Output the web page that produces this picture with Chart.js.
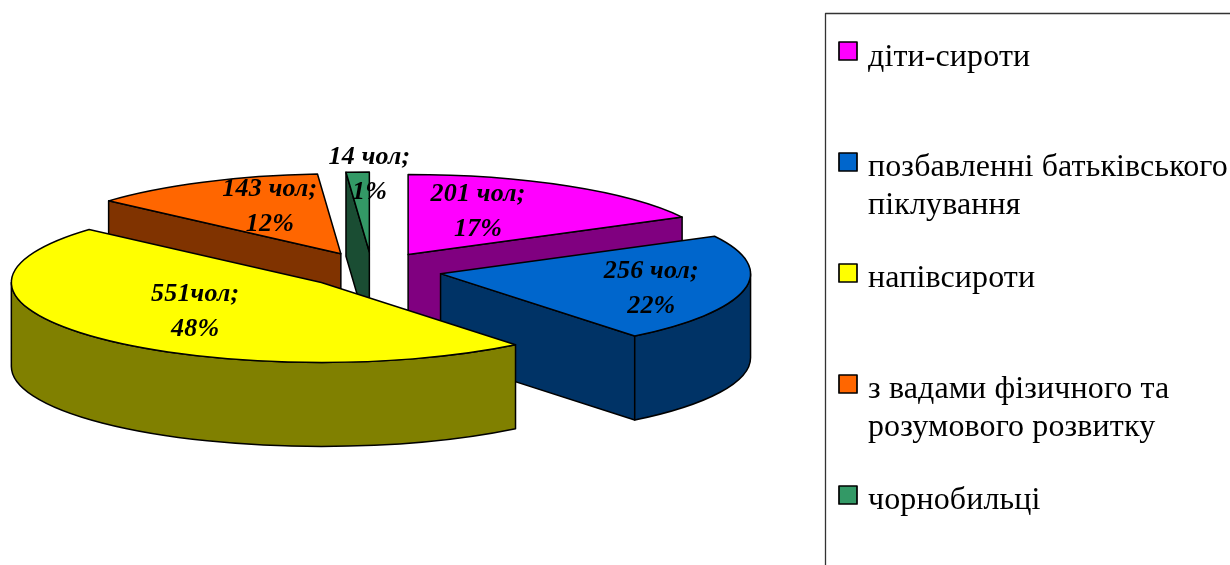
<!DOCTYPE html>
<html lang="uk">
<head>
<meta charset="utf-8">
<title>Pie</title>
<style>html,body{margin:0;padding:0;background:#fff;overflow:hidden}canvas{display:block}</style>
<script src="https://cdn.jsdelivr.net/npm/chart.js@4/dist/chart.umd.js"></script>
</head>
<body>
<canvas id="c" width="1230" height="565"></canvas>
<script>
const categories = ['діти-сироти', 'позбавленні батьківського піклування', 'напівсироти', 'з вадами фізичного та розумового розвитку', 'чорнобильці'];
const legendLines = [['діти-сироти'], ['позбавленні батьківського', 'піклування'], ['напівсироти'], ['з вадами фізичного та', 'розумового розвитку'], ['чорнобильці']];
const people = [201, 256, 551, 143, 14];
const valueLabels = ['201 чол;', '256 чол;', '551чол;', '143 чол;', '14 чол;'];
const percentLabels = ['17%', '22%', '48%', '12%', '1%'];
const topColors = ['#FF00FF', '#0066CC', '#FFFF00', '#FF6600', '#339966'];
const sideColors = ['#800080', '#003366', '#808000', '#803300', '#1A4D33'];

// view settings for the tilted, exploded pie
const TILT = 0.258, DEPTH = 84, EXPLODE = 70, RADIUS = 310;
const paintOrder = [0, 3, 4, 1, 2];
const labelNudge = [[-10, -19], [59, -4], [-14, -9], [-2, -22], [6, -48]];
const legendBox = {left: 825.5, top: 13.5};
const legendRows = [{box: 42, base: 66}, {box: 153, base: 176}, {box: 264, base: 287}, {box: 375, base: 398}, {box: 486, base: 509}];

function geom(chart, i) {
  const el = chart.getDatasetMeta(0).data[i];
  const mid = (el.startAngle + el.endAngle) / 2;
  const R = el.outerRadius;
  return {
    el, s: el.startAngle, e: el.endAngle, mid, R, b: R * TILT,
    x: el.x + Math.cos(mid) * EXPLODE,
    y: el.y + Math.sin(mid) * EXPLODE * TILT
  };
}
function quad(ctx, g, a, fill) {
  const px = g.x + g.R * Math.cos(a), py = g.y + g.b * Math.sin(a);
  ctx.beginPath();
  ctx.moveTo(g.x, g.y); ctx.lineTo(px, py); ctx.lineTo(px, py + DEPTH); ctx.lineTo(g.x, g.y + DEPTH);
  ctx.closePath(); ctx.fillStyle = fill; ctx.fill(); ctx.stroke();
}
const pie3d = {
  id: 'pie3d',
  beforeDatasetsDraw(chart) {
    const ctx = chart.ctx;
    ctx.save();
    ctx.strokeStyle = '#000'; ctx.lineWidth = 1.5; ctx.lineJoin = 'round';
    for (const i of paintOrder) {
      const g = geom(chart, i);
      if (Math.cos(g.s) < -1e-6) quad(ctx, g, g.s, sideColors[i]);
      if (Math.cos(g.e) > 1e-6) quad(ctx, g, g.e, sideColors[i]);
      const a1 = Math.max(g.s, 0), a2 = Math.min(g.e, Math.PI);
      if (a2 > a1) {
        ctx.beginPath();
        ctx.ellipse(g.x, g.y, g.R, g.b, 0, a1, a2);
        ctx.ellipse(g.x, g.y + DEPTH, g.R, g.b, 0, a2, a1, true);
        ctx.closePath(); ctx.fillStyle = sideColors[i]; ctx.fill(); ctx.stroke();
      }
    }
    ctx.restore();
  },
  beforeDatasetDraw(chart) {
    // the library's own arc elements, flattened into ellipses and moved apart
    const ctx = chart.ctx;
    people.forEach((v, i) => {
      const g = geom(chart, i);
      ctx.save();
      ctx.translate(g.x, g.y);
      ctx.scale(1, TILT);
      ctx.translate(-g.el.x, -g.el.y);
      g.el.draw(ctx);
      ctx.restore();
    });
    return false;
  },
  afterDatasetsDraw(chart) {
    const ctx = chart.ctx;
    ctx.save();
    ctx.strokeStyle = '#000'; ctx.lineWidth = 1.5; ctx.lineJoin = 'round';
    people.forEach((v, i) => {
      const g = geom(chart, i);
      ctx.beginPath();
      ctx.moveTo(g.x, g.y);
      ctx.ellipse(g.x, g.y, g.R, g.b, 0, g.s, g.e);
      ctx.closePath(); ctx.stroke();
    });
    // value labels
    ctx.fillStyle = '#000'; ctx.textAlign = 'center'; ctx.textBaseline = 'alphabetic';
    ctx.font = 'italic bold 26px "Liberation Serif"';
    ctx.letterSpacing = '0.2px';
    people.forEach((v, i) => {
      const g = geom(chart, i);
      const ax = g.x + 0.5 * g.R * Math.cos(g.mid) + labelNudge[i][0];
      const ay = g.y + 0.5 * g.b * Math.sin(g.mid) + labelNudge[i][1];
      ctx.fillText(valueLabels[i], ax, ay);
      ctx.fillText(percentLabels[i], ax, ay + 35);
    });
    // legend
    ctx.strokeStyle = '#333'; ctx.lineWidth = 1.3;
    ctx.beginPath();
    ctx.moveTo(1230, legendBox.top); ctx.lineTo(legendBox.left, legendBox.top); ctx.lineTo(legendBox.left, 565);
    ctx.stroke();
    ctx.textAlign = 'left';
    ctx.font = '32px "Liberation Serif"';
    ctx.letterSpacing = '0.12px';
    ctx.lineWidth = 1.7;
    legendLines.forEach((lines, i) => {
      const r = legendRows[i];
      ctx.fillStyle = topColors[i];
      ctx.fillRect(839, r.box, 18, 18);
      ctx.strokeStyle = '#000'; ctx.strokeRect(839, r.box, 18, 18);
      ctx.fillStyle = '#000';
      lines.forEach((t, k) => ctx.fillText(t, 868, r.base + k * 38));
    });
    ctx.restore();
  }
};
new Chart(document.getElementById('c'), {
  type: 'pie',
  data: {
    labels: categories,
    datasets: [{
      data: people,
      backgroundColor: topColors,
      borderWidth: 0,
      radius: RADIUS,
      clip: false
    }]
  },
  options: {
    responsive: false,
    animation: false,
    layout: {padding: {right: 486, bottom: 25}},
    plugins: {legend: {display: false}, tooltip: {enabled: false}}
  },
  plugins: [pie3d]
});
</script>
</body>
</html>
